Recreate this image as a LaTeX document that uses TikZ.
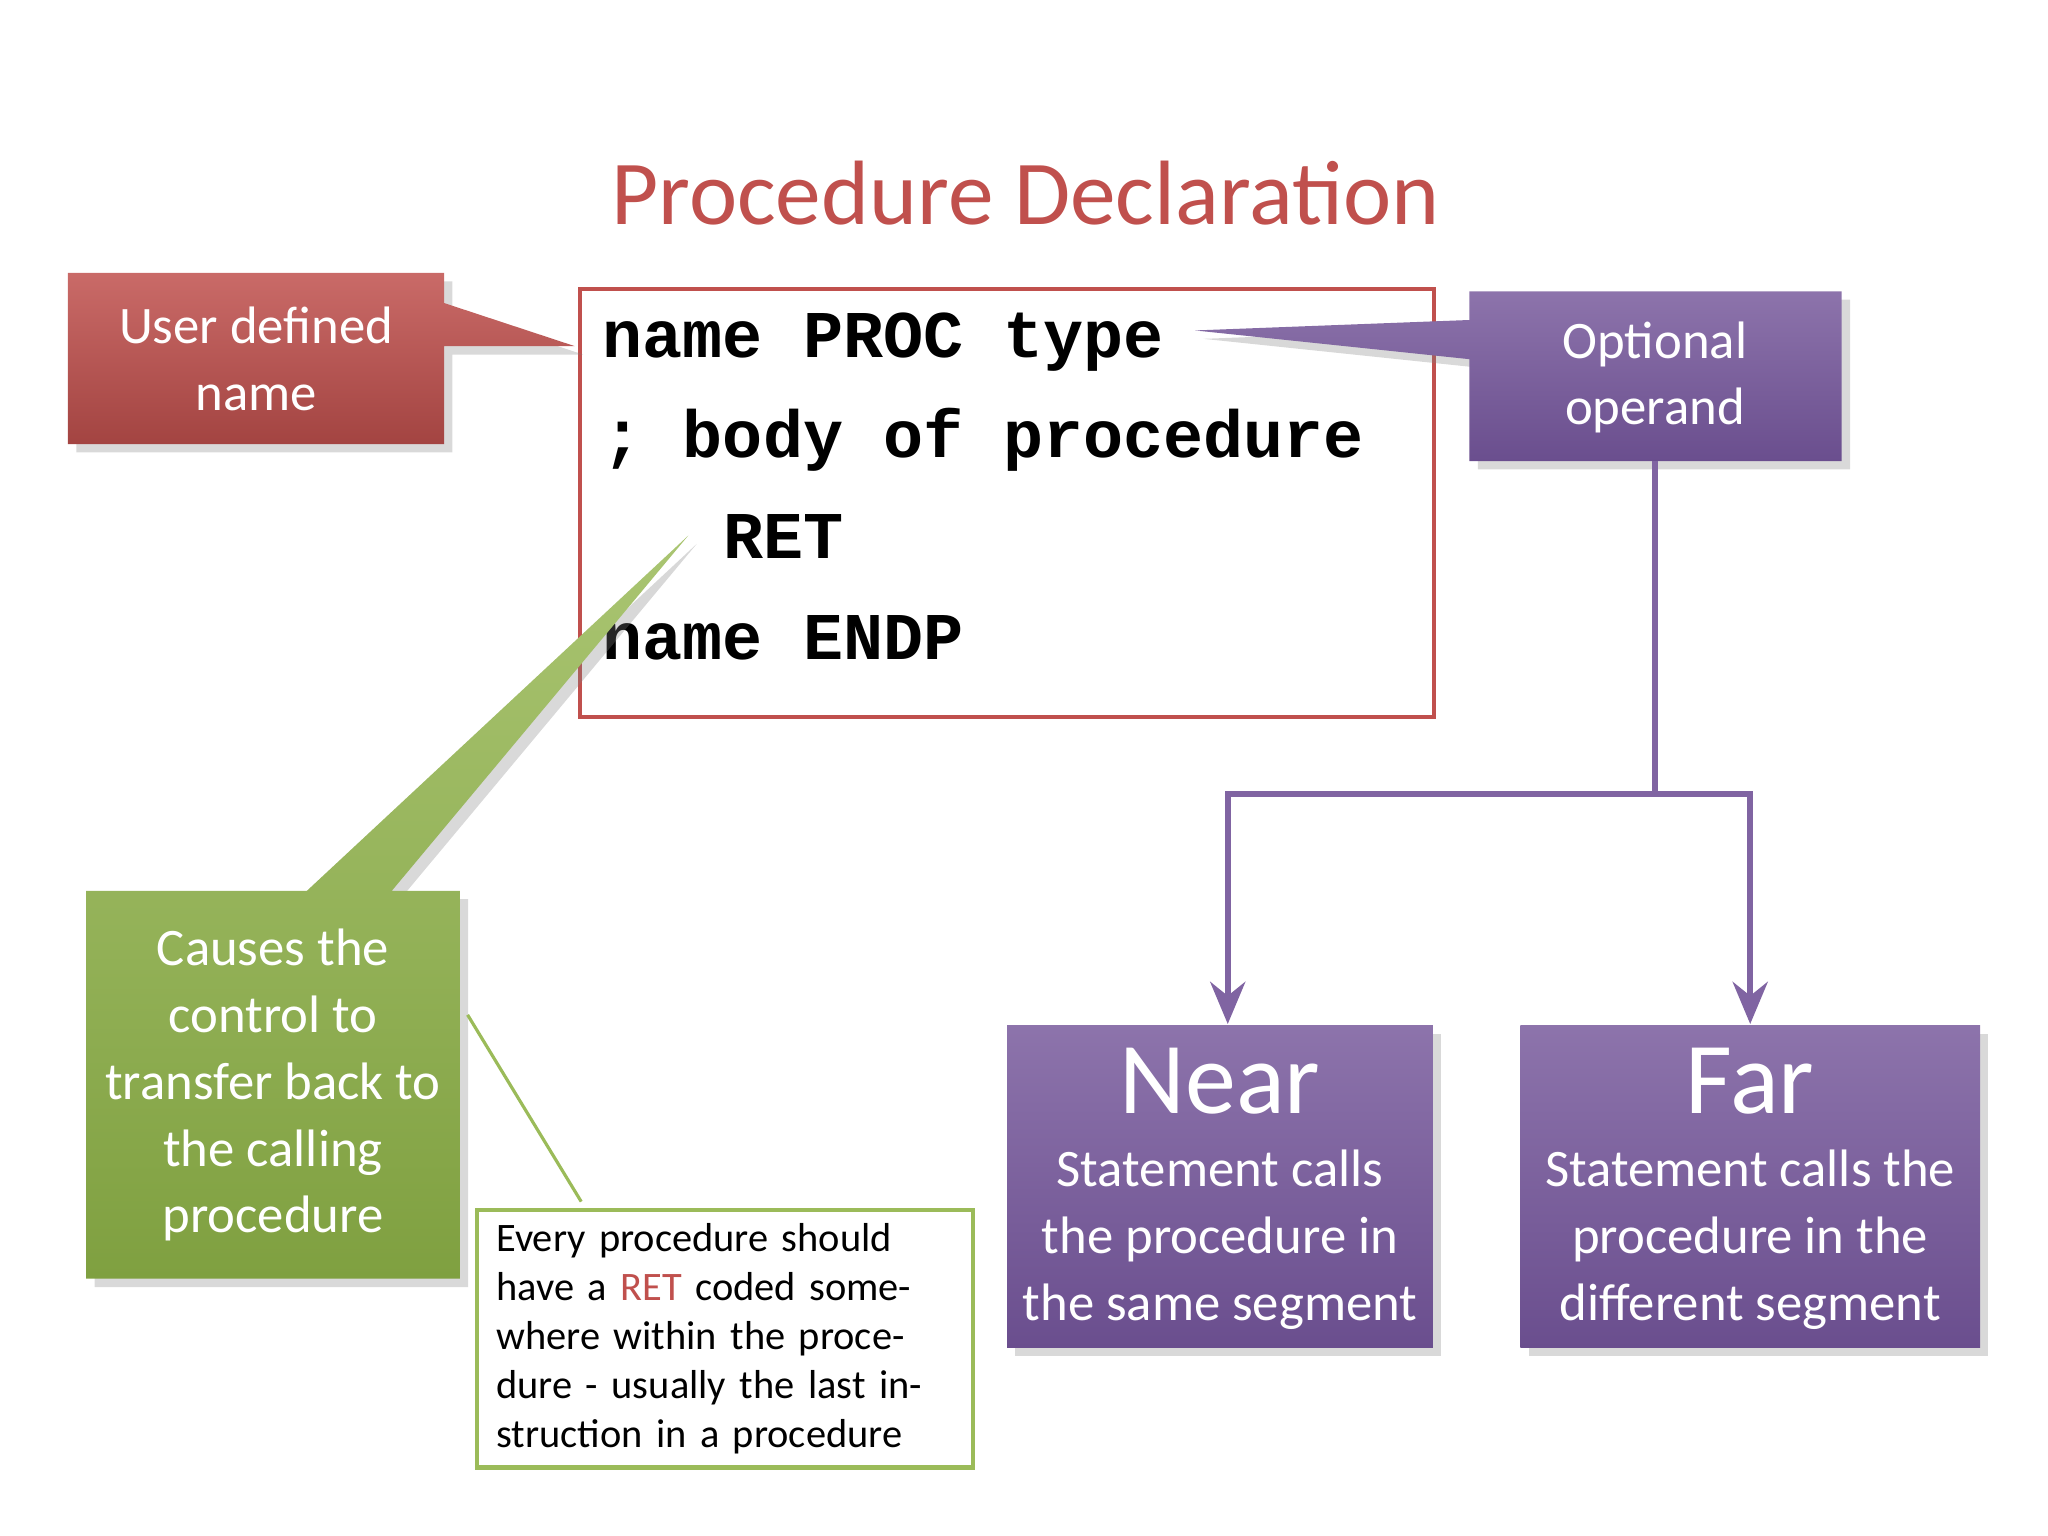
\documentclass[tikz,border=0pt]{standalone}
\usepackage{fontspec}
\setmainfont{Carlito}
\newfontfamily\codefont{Liberation Mono}
\usetikzlibrary{arrows.meta,shadows}
\definecolor{tred}{HTML}{C0504D}
\definecolor{pur}{HTML}{8064A2}
\definecolor{purd}{HTML}{6A4E8E}
\definecolor{grn}{HTML}{9BBB59}
\definecolor{grnd}{HTML}{7FA040}
\begin{document}
\begin{tikzpicture}[x=0.01306cm,y=-0.01306cm,
  callout/.style={draw=#1!80!black,line width=0.6pt,drop shadow={opacity=0.3},inner sep=0},
  ctext/.style={text=white,align=center,font=\fontsize{15}{19}\selectfont},
  conn/.style={draw=pur,line width=1.6pt}]
\useasboundingbox (0,0) rectangle (1568,1176);
\node (title) at (785,148) {\textcolor{tred}{\fontsize{26}{30}\selectfont Procedure Declaration}};
% code box
\draw[tred,line width=1.2pt,fill=white] (444,221) rectangle (1098,549);
\node (codebox) at (771,385) {};
\begin{scope}[font=\codefont\bfseries\fontsize{19}{22}\selectfont]
\node[anchor=west] (l1) at (452,262) {name PROC type};
\node[anchor=west] (l2) at (452,337) {; body of procedure};
\node[anchor=west] (l3) at (452,411) {\ \ \ RET};
\node[anchor=west] (l4) at (452,488) {name ENDP};
\end{scope}
% red callout
\shade[top color=tred!85!white,bottom color=tred!85!black,drop shadow={opacity=0.3}]
 (52,209) -- (340,209) -- (340,232) -- (440,265) -- (340,265) -- (340,340) -- (52,340) -- cycle;
\node[ctext] (ud) at (196,275) {User defined\\name};
% purple callout
\shade[top color=pur!90!white,bottom color=purd,drop shadow={opacity=0.3}]
 (1125,223) -- (1410,223) -- (1410,353) -- (1125,353) -- (1125,275) -- (915,253) -- (1125,245) -- cycle;
\node[ctext] (opt) at (1267,289) {Optional\\operand};
% green callout
\shade[top color=grn!85!white,bottom color=grnd,drop shadow={opacity=0.3}]
 (66,682) -- (235,682) -- (527,410) -- (300,682) -- (352,682) -- (352,979) -- (66,979) -- cycle;
\node[ctext] (cause) at (209,831) {Causes the\\control to\\transfer back to\\the calling\\procedure};
% note
\node[draw=grn,line width=1.2pt,fill=white,minimum width=380*0.01306cm,minimum height=197*0.01306cm,
  text width=350*0.01306cm,align=left,inner sep=0,
  font=\fontsize{11.5}{14}\selectfont] (note) at (555,1025)
 {Every procedure should have a \textcolor{tred}{RET} coded somewhere within the procedure - usually the last instruction in a procedure};
\coordinate (nl) at (358,777);
\draw[grn,line width=0.9pt] (nl) -- (445,920);
% Near / Far
\shade[top color=pur!90!white,bottom color=purd,drop shadow={opacity=0.3}] (771,785) rectangle (1097,1032);
\node[ctext] (near) at (934,910) {{\fontsize{29}{34}\selectfont Near}\\[2pt]Statement calls\\the procedure in\\the same segment};
\shade[top color=pur!90!white,bottom color=purd,drop shadow={opacity=0.3}] (1164,785) rectangle (1516,1032);
\node[ctext] (far) at (1340,910) {{\fontsize{29}{34}\selectfont Far}\\[2pt]Statement calls the\\procedure in the\\different segment};
% connectors
\coordinate (ob) at (1267,353);
\coordinate (j) at (1267,608);
\coordinate (nt) at (940,784);
\coordinate (ft) at (1340,784);
\draw[conn] (ob) -- (j);
\draw[conn,-{Stealth[length=12pt,width=10pt,inset=4pt]}] (j) -- (940,608) -- (nt);
\draw[conn,-{Stealth[length=12pt,width=10pt,inset=4pt]}] (j) -- (1340,608) -- (ft);
\end{tikzpicture}
\end{document}
